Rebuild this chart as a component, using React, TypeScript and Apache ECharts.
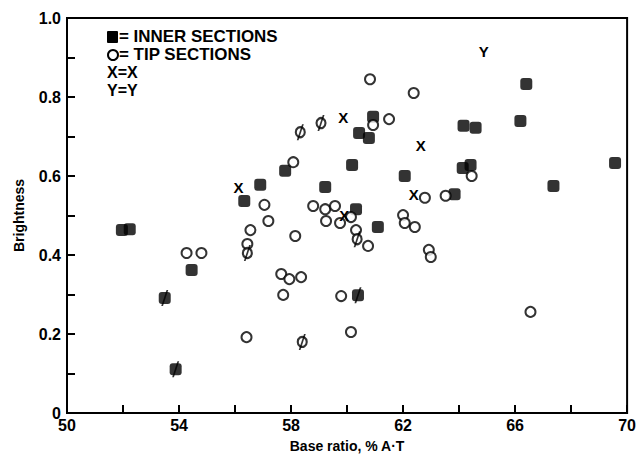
import React, { useEffect, useRef } from "react";
import * as echarts from "echarts";

const xTicks = [50, 54, 58, 62, 66, 70];
const yTicks = [0, 0.2, 0.4, 0.6, 0.8, 1.0];

const innerSections: number[][] = [
  [51.96, 0.463], [52.24, 0.465], [54.45, 0.362], [56.33, 0.537], [56.9, 0.578],
  [57.79, 0.613], [59.22, 0.572], [60.18, 0.628], [60.32, 0.516], [60.43, 0.709],
  [60.78, 0.696], [60.93, 0.75], [61.1, 0.471], [62.06, 0.6], [63.84, 0.554],
  [64.13, 0.62], [64.41, 0.628], [64.16, 0.727], [64.59, 0.722], [66.19, 0.739],
  [66.4, 0.833], [67.37, 0.575], [69.57, 0.633],
];
const innerSlashed: number[][] = [
  [53.49, 0.291], [53.88, 0.111], [60.39, 0.298],
];
const tipSections: number[][] = [
  [54.27, 0.405], [54.8, 0.405], [56.41, 0.192], [56.44, 0.428], [56.55, 0.463],
  [57.05, 0.527], [57.19, 0.486], [57.65, 0.352], [57.72, 0.299], [57.94, 0.339],
  [58.36, 0.344], [58.08, 0.635], [58.15, 0.448], [58.79, 0.524], [59.22, 0.516],
  [59.57, 0.524], [59.25, 0.486], [59.75, 0.481], [59.79, 0.296], [60.14, 0.205],
  [60.14, 0.496], [60.32, 0.463], [60.75, 0.423], [60.82, 0.845], [60.93, 0.729],
  [61.5, 0.744], [62.0, 0.501], [62.06, 0.481], [62.42, 0.471], [62.38, 0.81],
  [62.78, 0.545], [62.92, 0.413], [62.99, 0.395], [63.52, 0.55], [64.45, 0.6],
  [66.55, 0.256],
];
const tipSlashed: number[][] = [
  [56.44, 0.405], [58.33, 0.711], [59.07, 0.734], [58.4, 0.18], [60.36, 0.44],
];
const xPoints: number[][] = [
  [56.12, 0.57], [59.86, 0.747], [62.63, 0.676], [62.38, 0.554], [59.9, 0.5],
];
const yPoints: number[][] = [[64.88, 0.914]];

const FONT = "'Liberation Sans', Arial, Helvetica, sans-serif";
const SLASH = "path://M0,16 L2,16 L8,0 L6,0 Z";

export default function App() {
  const ref = useRef<HTMLDivElement>(null);
  useEffect(() => {
    if (!ref.current) return;
    const chart = echarts.init(ref.current, null, { renderer: "svg" });
    const labelStyle = { color: "#000", fontWeight: "bold" as const, fontFamily: FONT };
    const legendFont = `bold 16px ${FONT}`;
    chart.setOption({
      animation: false,
      backgroundColor: "#fff",
      grid: {
        left: 67, right: 10, top: 18, bottom: 46,
        show: true, borderColor: "#000", borderWidth: 2, backgroundColor: "transparent",
      },
      xAxis: {
        type: "value", min: 50, max: 70, interval: 2,
        name: "Base ratio, % A·T", nameLocation: "middle", nameGap: 26,
        nameTextStyle: { ...labelStyle, fontSize: 14 },
        axisLine: { lineStyle: { color: "#000", width: 2 } },
        axisTick: { inside: true, length: 8, lineStyle: { color: "#000", width: 2 } },
        splitLine: { show: false },
        axisLabel: {
          ...labelStyle, fontSize: 16, margin: 4,
          formatter: (v: number) => (xTicks.includes(Math.round(v)) ? String(Math.round(v)) : ""),
        },
      },
      yAxis: {
        type: "value", min: 0, max: 1, interval: 0.1,
        name: "Brightness", nameLocation: "middle", nameGap: 41,
        nameTextStyle: { ...labelStyle, fontSize: 14 },
        axisLine: { lineStyle: { color: "#000", width: 2 } },
        axisTick: { inside: true, length: 8, lineStyle: { color: "#000", width: 2 } },
        splitLine: { show: false },
        axisLabel: {
          ...labelStyle, fontSize: 16, margin: 6,
          formatter: (v: number) => {
            const r = Math.round(v * 10) / 10;
            const hit = yTicks.some((t) => Math.abs(t - r) < 1e-6);
            if (!hit) return "";
            return r === 0 ? "0" : r.toFixed(1);
          },
        },
      },
      graphic: [
        { type: "rect", left: 107, top: 31, shape: { width: 11, height: 12, r: 1 }, style: { fill: "#000" } },
        { type: "text", x: 119, y: 28, scaleX: 1.06, style: { text: "= INNER SECTIONS", font: legendFont, fill: "#000" } },
        { type: "circle", left: 107, top: 49, shape: { r: 5 }, style: { fill: "#fff", stroke: "#000", lineWidth: 2 } },
        { type: "text", x: 119, y: 46, scaleX: 1.06, style: { text: "= TIP SECTIONS", font: legendFont, fill: "#000" } },
        { type: "text", x: 107, y: 64, style: { text: "X=X", font: legendFont, fill: "#000" } },
        { type: "text", x: 107, y: 82, style: { text: "Y=Y", font: legendFont, fill: "#000" } },
      ],
      series: [
        {
          type: "scatter", data: innerSections, symbol: "roundRect", symbolSize: 12,
          itemStyle: { color: "#000" },
        },
        {
          type: "scatter", data: innerSlashed, symbol: "roundRect", symbolSize: 12,
          itemStyle: { color: "#000" },
        },
        {
          type: "scatter", data: tipSections, symbol: "circle", symbolSize: 10,
          itemStyle: { color: "#fff", borderColor: "#000", borderWidth: 2 },
        },
        {
          type: "scatter", data: tipSlashed, symbol: "circle", symbolSize: [9, 10],
          itemStyle: { color: "#fff", borderColor: "#000", borderWidth: 2.2 },
        },
        {
          type: "scatter", data: [...innerSlashed, ...tipSlashed], symbol: SLASH, symbolSize: [7, 16],
          itemStyle: { color: "#000" },
        },
        {
          type: "scatter", data: xPoints, symbol: "circle", symbolSize: 1,
          itemStyle: { color: "#fff", opacity: 1 },
          label: { show: true, position: "inside", formatter: "X", ...labelStyle, fontSize: 15, opacity: 1 },
        },
        {
          type: "scatter", data: yPoints, symbol: "circle", symbolSize: 1,
          itemStyle: { color: "#fff", opacity: 1 },
          label: { show: true, position: "inside", formatter: "Y", ...labelStyle, fontSize: 15, opacity: 1 },
        },
      ],
    });
    return () => chart.dispose();
  }, []);
  return (
    <div
      ref={ref}
      style={{ position: "absolute", left: 0, top: 0, width: 639, height: 459 }}
    />
  );
}
